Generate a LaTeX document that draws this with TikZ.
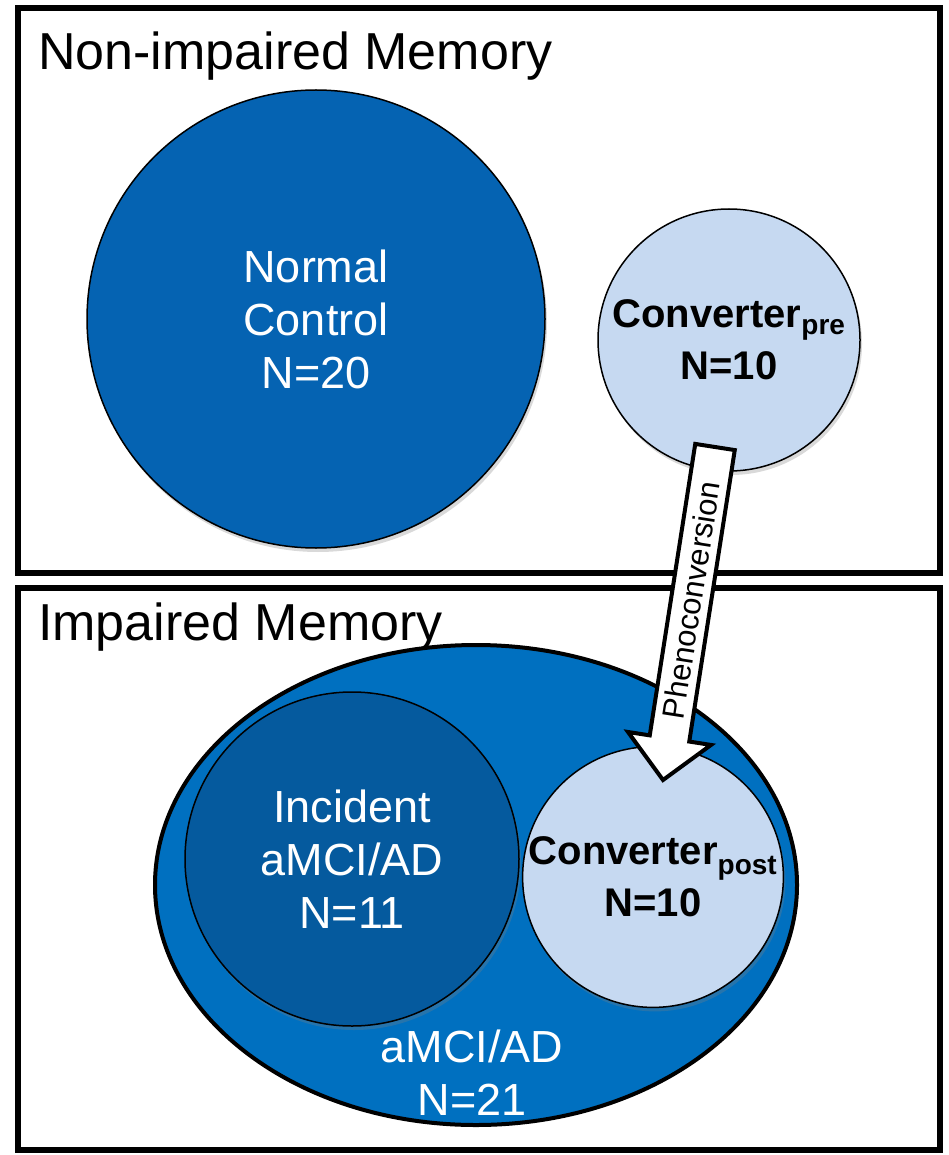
\documentclass[tikz,border=0pt]{standalone}
\usepackage{fontspec}
\setmainfont{Liberation Sans}
\usetikzlibrary{shapes.geometric,calc,shadows}

\definecolor{ncblue}{HTML}{0563B2}
\definecolor{amciblue}{HTML}{0070C0}
\definecolor{incblue}{HTML}{055A9E}
\definecolor{convblue}{HTML}{C6D9F1}

\begin{document}
\begin{tikzpicture}[x=1pt,y=-1pt,
  panel/.style={draw, line width=6},
  group/.style={circle, draw, line width=1.5, align=center, inner sep=0,
    drop shadow={opacity=0.3, shadow xshift=2pt, shadow yshift=-4pt}},
  bigtxt/.style={font=\fontsize{45}{53}\selectfont, text=white, align=center},
  convtxt/.style={font=\fontsize{40}{52}\selectfont\bfseries, align=center}]
  \useasboundingbox (0,0) rectangle (949,1155);

  % the two panels
  \draw[panel] (18,8) rectangle (940,573);
  \draw[panel] (18,588) rectangle (940,1150);
  \node[anchor=base west, font=\fontsize{52}{60}\selectfont, inner sep=0] (toptitle) at (38,70) {Non-impaired Memory};
  \node[anchor=base west, font=\fontsize{52}{60}\selectfont, inner sep=0] (bottitle) at (38,640) {Impaired Memory};

  % non-impaired groups
  \node[group, fill=ncblue, minimum size=458, bigtxt] (nc) at (316,319) {Normal\\Control\\N=20};
  \node[group, fill=convblue, minimum size=262, convtxt] (conpre) at (729,340) {Converter\textsubscript{pre}\\N=10};

  % impaired groups
  \node[ellipse, draw, line width=4, fill=amciblue, minimum width=642, minimum height=480] (amci) at (476,885) {};
  \node[group, fill=incblue, minimum size=334, bigtxt] (inc) at (352,859) {Incident\\aMCI/AD\\N=11};
  \node[group, fill=convblue, minimum size=254, convtxt] (conpost) at (653,877) {Converter\textsubscript{post}\\N=10};
  \node[bigtxt] (amcilbl) at (472,1073) {aMCI/AD\\N=21};

  % phenoconversion arrow
  \coordinate (arrtail) at (715,447);
  \coordinate (arrtip) at (663,780);
  \coordinate (arrbase) at ($(arrtail)!295pt!(arrtip)$);
  \draw[line width=4, fill=white, line join=miter]
    ($(arrtail)!20pt!90:(arrtip)$) -- ($(arrbase)!20pt!-90:(arrtail)$)
    -- ($(arrbase)!42pt!-90:(arrtail)$) -- (arrtip)
    -- ($(arrbase)!42pt!90:(arrtail)$) -- ($(arrbase)!20pt!90:(arrtail)$)
    -- ($(arrtail)!20pt!-90:(arrtip)$) -- cycle;
  \node[rotate=81.1, font=\fontsize{31}{31}\selectfont, inner sep=0] (phlabel) at ($(arrtip)!0.54!(arrtail)$) {Phenoconversion};
\end{tikzpicture}
\end{document}
